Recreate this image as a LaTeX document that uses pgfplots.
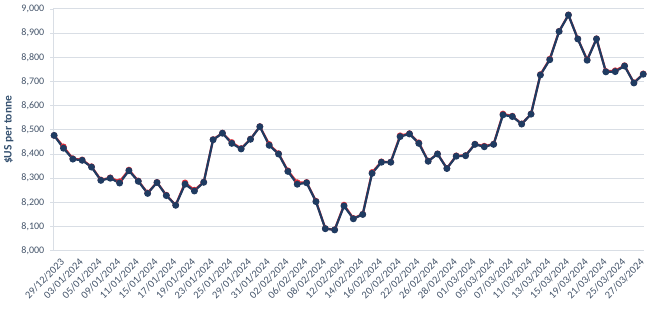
\documentclass[border=0pt]{standalone}
\usepackage{pgfplots}
\pgfplotsset{compat=1.18}
\usepackage{pgfplotstable}
\usepackage{fontspec}
\setmainfont{Carlito}
\definecolor{navy}{HTML}{1F3B61}
\definecolor{redl}{HTML}{E0303A}
\definecolor{txt}{HTML}{44546A}
\definecolor{ylab}{HTML}{34506F}
\definecolor{grd}{HTML}{D9DEE5}
\pgfplotstableread{
i blue red
0 8477 8477
1 8424 8430
2 8379 8381
3 8374 8376
4 8346 8348
5 8291 8293
6 8300 8302
7 8280 8286
8 8331 8334
9 8287 8289
10 8237 8239
11 8282 8283
12 8228 8230
13 8188 8189
14 8275 8281
15 8247 8251
16 8283 8284
17 8459 8460
18 8486 8487
19 8444 8448
20 8421 8423
21 8461 8462
22 8513 8514
23 8436 8440
24 8400 8402
25 8328 8331
26 8275 8282
27 8281 8283
28 8203 8205
29 8091 8092
30 8086 8087
31 8185 8189
32 8132 8134
33 8150 8151
34 8320 8324
35 8366 8368
36 8366 8367
37 8472 8476
38 8483 8485
39 8444 8447
40 8370 8371
41 8400 8401
42 8340 8341
43 8391 8393
44 8393 8394
45 8440 8441
46 8430 8433
47 8440 8441
48 8562 8566
49 8555 8557
50 8524 8525
51 8565 8566
52 8727 8729
53 8790 8793
54 8907 8908
55 8975 8976
56 8876 8877
57 8788 8790
58 8876 8877
59 8740 8742
60 8741 8745
61 8764 8766
62 8694 8695
63 8730 8732
}\pricedata
\begin{document}
\begin{tikzpicture}
\path[use as bounding box] (0,0) rectangle (647bp,315bp);
\begin{axis}[
  at={(53bp,64.3bp)}, anchor=south west,
  scale only axis, width=591bp, height=241.7bp,
  xmin=-0.12, xmax=63.08, ymin=8000, ymax=9000,
  ytick={8000,8100,...,9000},
  xtick={0,2,...,62},
  xticklabels={29/12/2023,03/01/2024,05/01/2024,09/01/2024,11/01/2024,15/01/2024,17/01/2024,19/01/2024,23/01/2024,25/01/2024,29/01/2024,31/01/2024,02/02/2024,06/02/2024,08/02/2024,12/02/2024,14/02/2024,16/02/2024,20/02/2024,22/02/2024,26/02/2024,28/02/2024,01/03/2024,05/03/2024,07/03/2024,11/03/2024,13/03/2024,15/03/2024,19/03/2024,21/03/2024,25/03/2024,27/03/2024},
  axis x line*=bottom, axis y line*=left,
  axis line style={draw=grd, line width=0.8bp},
  x axis line style={-}, y axis line style={-},
  ymajorgrids, grid style={draw=grd, line width=1bp},
  tick style={draw=grd, line width=0.8bp},
  ytick style={/pgfplots/major tick length=3bp},
  xtick style={draw=none},
  tick align=outside,
  /pgf/number format/assume math mode=true,
  /pgf/number format/.cd, 1000 sep={,}, /pgfplots/.cd,
  yticklabel style={font=\fontsize{10bp}{12bp}\selectfont, text=txt, xshift=-1bp},
  xticklabel style={font=\fontsize{10.5bp}{12bp}\selectfont, text=txt, rotate=45, anchor=north east, inner sep=1bp, xshift=3bp, yshift=-5bp},
  ylabel={\textbf{\$US per tonne}},
  every axis y label/.style={at={(axis description cs:-0.075,0.5)}, rotate=90, anchor=center, font=\fontsize{11.5bp}{13bp}\selectfont, text=ylab},
  clip=false,
]
\addplot[redl, line width=2.2bp, mark=*, mark size=2.1bp, mark options={fill=redl, draw=redl}] table[x=i, y=red] {\pricedata};
\addplot[navy, line width=2.2bp, mark=*, mark size=2.3bp, mark options={fill=navy, draw=navy}] table[x=i, y=blue] {\pricedata};
\end{axis}
\end{tikzpicture}
\end{document}
